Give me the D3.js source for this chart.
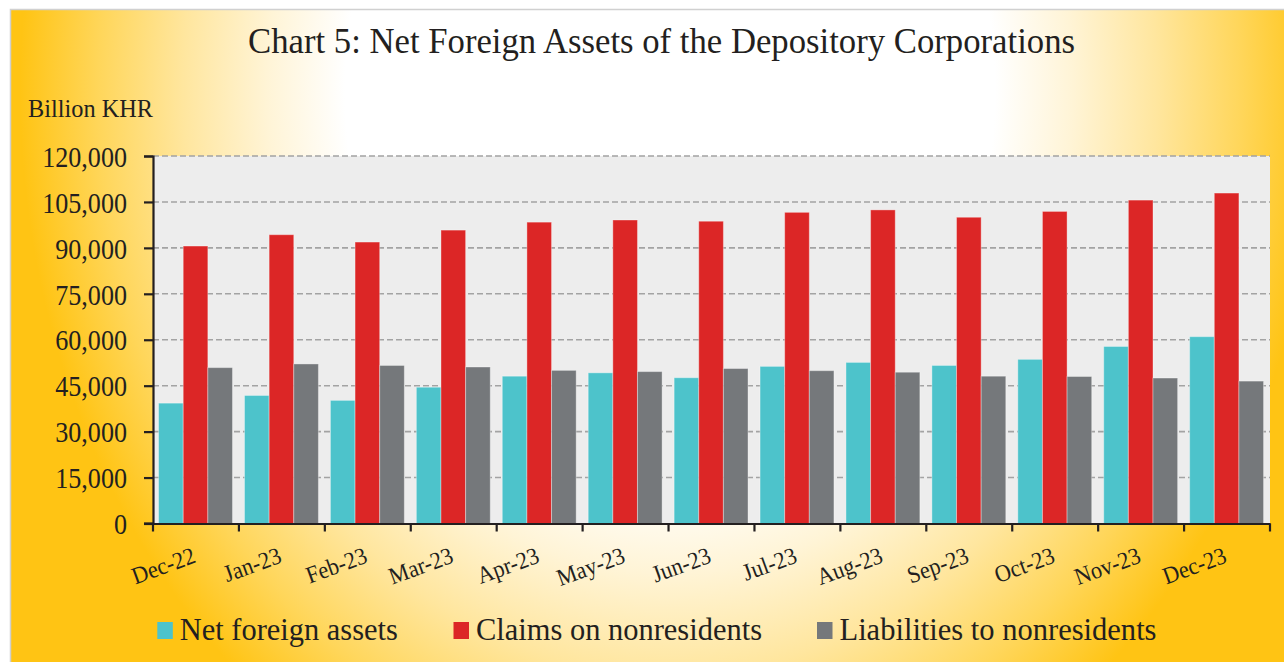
<!DOCTYPE html>
<html>
<head>
<meta charset="utf-8">
<script src="https://cdn.jsdelivr.net/npm/d3@7"></script>
<style>
  html, body { margin: 0; padding: 0; background: #fff; }
  svg { display: block; }
  text { font-family: "Liberation Serif", "Times New Roman", serif; fill: #231F20; }
</style>
</head>
<body>
<svg id="chart" width="1284" height="662"></svg>
<script>
// ---- data (billion KHR) ----
const categories = ["Dec-22","Jan-23","Feb-23","Mar-23","Apr-23","May-23","Jun-23","Jul-23","Aug-23","Sep-23","Oct-23","Nov-23","Dec-23"];
const seriesNames = ["Net foreign assets","Claims on nonresidents","Liabilities to nonresidents"];
const netForeignAssets = [39300, 41800, 40200, 44500, 48100, 49200, 47600, 51300, 52600, 51600, 53600, 57800, 61000];
const claimsOnNonresidents = [90600, 94300, 91900, 95800, 98400, 99100, 98700, 101600, 102400, 100000, 101900, 105600, 107900];
const liabilitiesToNonresidents = [50900, 52100, 51600, 51100, 50000, 49600, 50600, 49900, 49400, 48100, 48000, 47500, 46500];
const yTicks = [0, 15000, 30000, 45000, 60000, 75000, 90000, 105000, 120000];
const seriesColors = ["#4DC3CB", "#DC2626", "#75787B"];

const seriesValues = [netForeignAssets, claimsOnNonresidents, liabilitiesToNonresidents];

const svg = d3.select("#chart");
const W = 1284, H = 662;
const m = { left: 153, right: 1270, top: 156, bottom: 523.5 };

// ---- background ----
const defs = svg.append("defs");
const grad = defs.append("radialGradient")
  .attr("id", "bg").attr("gradientUnits", "userSpaceOnUse")
  .attr("cx", 670).attr("cy", 90).attr("r", 650)
  .attr("gradientTransform", "translate(670,90) scale(1,1.2) translate(-670,-90)");
[[0, "#FFFFFF"], [0.5, "#FFFFFF"], [0.62, "#FFF4D6"], [0.75, "#FFE69E"], [0.88, "#FFD65A"], [1, "#FFC414"]]
  .forEach(([o, c]) => grad.append("stop").attr("offset", o).attr("stop-color", c));

svg.append("rect").attr("width", W).attr("height", H).attr("fill", "#fff");
svg.append("rect").attr("x", 10.5).attr("y", 9.5).attr("width", W).attr("height", H)
  .attr("fill", "url(#bg)").attr("stroke", "#D0D0D0").attr("stroke-width", 1.5);

// ---- scales ----
const x0 = d3.scaleBand().domain(categories).range([m.left, m.right]).paddingInner(0).paddingOuter(0);
const bw = x0.bandwidth();
const x1 = d3.scaleBand().domain(seriesNames).range([bw * 0.065, bw * 0.925]).padding(0);
const y = d3.scaleLinear().domain([0, 120000]).range([m.bottom, m.top]);

// plot background
svg.append("rect").attr("x", m.left).attr("y", m.top)
  .attr("width", m.right - m.left).attr("height", m.bottom - m.top).attr("fill", "#EDEDED");

// gridlines
svg.append("g").selectAll("line").data(yTicks.filter(d => d > 0)).join("line")
  .attr("x1", m.left).attr("x2", m.right)
  .attr("y1", d => y(d)).attr("y2", d => y(d))
  .attr("stroke", "#A3A3A3").attr("stroke-width", 1.6).attr("stroke-dasharray", "6,3");

// bars
const groups = svg.append("g").selectAll("g").data(categories).join("g")
  .attr("transform", d => `translate(${x0(d)},0)`);
groups.selectAll("rect")
  .data((c, i) => seriesNames.map((s, k) => ({ s, k, v: seriesValues[k][i] })))
  .join("rect")
  .attr("x", d => x1(d.s))
  .attr("width", x1.bandwidth())
  .attr("y", d => y(d.v))
  .attr("height", d => y(0) - y(d.v))
  .attr("fill", d => seriesColors[d.k])
  .attr("stroke", "rgba(255,255,255,0.35)").attr("stroke-width", 1);

// squash helper: keep glyph height, narrow width
function squash(sel, f) {
  sel.each(function () {
    const len = this.getComputedTextLength();
    d3.select(this).attr("textLength", len * f).attr("lengthAdjust", "spacingAndGlyphs");
  });
}

// y axis
const yAxis = svg.append("g").attr("transform", `translate(${m.left},0)`)
  .call(d3.axisLeft(y).tickValues(yTicks).tickFormat(d3.format(",")).tickSize(9).tickPadding(17));
yAxis.select(".domain").attr("stroke", "#231F20").attr("stroke-width", 2.2);
yAxis.selectAll(".tick line").attr("stroke", "#231F20").attr("stroke-width", 2.2);
yAxis.selectAll(".tick text").attr("font-size", 30).attr("fill", "#231F20")
  .attr("font-family", "Liberation Serif, serif").attr("dy", "0.34em");
squash(yAxis.selectAll(".tick text"), 0.87);

// x axis
const xAxis = svg.append("g").attr("transform", `translate(0,${m.bottom})`)
  .call(d3.axisBottom(x0).tickSize(0).tickFormat(""));
xAxis.select(".domain").attr("stroke", "#231F20").attr("stroke-width", 2.2);
xAxis.selectAll(".tick").remove();
const boundaries = categories.map(c => x0(c)).concat([m.right]);
xAxis.selectAll("line.bt").data(boundaries).join("line").attr("class", "bt")
  .attr("x1", d => d).attr("x2", d => d).attr("y1", 0).attr("y2", 8)
  .attr("stroke", "#231F20").attr("stroke-width", 2.2);
svg.append("line").attr("x1", 144).attr("x2", m.left).attr("y1", m.bottom).attr("y2", m.bottom)
  .attr("stroke", "#231F20").attr("stroke-width", 2.2);

const xl = svg.append("g").selectAll("text").data(categories).join("text")
  .attr("transform", d => `translate(${x0(d) + bw / 2 + 1},${m.bottom + 38.5}) rotate(-20)`)
  .attr("text-anchor", "end").attr("font-size", 24).text(d => d);
squash(xl, 0.93);

// title & unit
svg.append("text").attr("x", 248).attr("y", 53).attr("font-size", 36)
  .attr("textLength", 827).attr("lengthAdjust", "spacingAndGlyphs")
  .text("Chart 5: Net Foreign Assets of the Depository Corporations");
svg.append("text").attr("x", 28).attr("y", 117).attr("font-size", 26)
  .attr("textLength", 125).attr("lengthAdjust", "spacingAndGlyphs")
  .text("Billion KHR");

// legend
const legendX = [157.3, 453.5, 817];
const legendLen = [218, 286, 317];
const lg = svg.append("g").selectAll("g").data(seriesNames).join("g")
  .attr("transform", (d, i) => `translate(${legendX[i]},0)`);
lg.append("rect").attr("x", 0).attr("y", 622).attr("width", 15.5).attr("height", 17)
  .attr("fill", (d, i) => seriesColors[i]);
lg.append("text").attr("x", 22.5).attr("y", 640).attr("font-size", 31)
  .attr("textLength", (d, i) => legendLen[i]).attr("lengthAdjust", "spacingAndGlyphs")
  .text(d => d);
</script>
</body>
</html>
